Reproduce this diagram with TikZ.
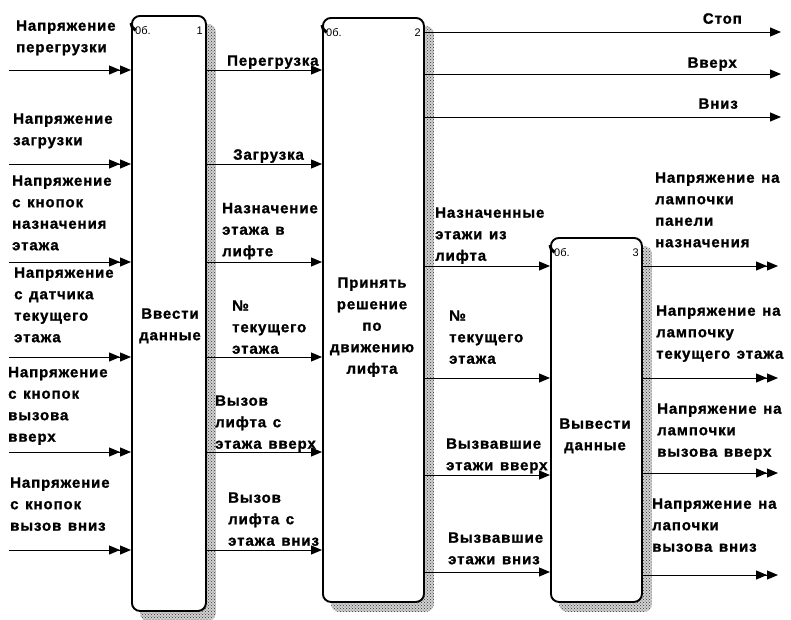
\documentclass[tikz,border=0pt]{standalone}
\usepackage{fontspec}
\setmainfont{Liberation Sans}
\newfontfamily\labfont[LetterSpace=6,WordSpace=1.3,BoldFeatures={FakeBold=1.2}]{Liberation Sans}
\usetikzlibrary{arrows.meta,patterns,backgrounds}
\newcommand\mystrut{\rule{0pt}{11pt}}
\tikzset{
  box/.style={draw, line width=1.9pt, rounded corners=8pt, fill=white, anchor=north west, inner sep=0pt},
  shad/.style={fill=black!18, postaction={pattern=crosshatch dots, pattern color=black!80}, rounded corners=8pt},
  lab/.style={font=\labfont\bfseries\fontsize{15pt}{21.5pt}\selectfont, align=left, anchor=north west, inner sep=0pt},
  rlab/.style={lab, anchor=north east, align=right},
  blab/.style={lab, anchor=north, align=center},
  tag/.style={font=\fontsize{11pt}{12pt}\selectfont, inner sep=0pt},
  arr/.style={line width=1pt, -{Triangle[length=11pt,width=9pt]}},
  darr/.style={line width=1pt, -{Triangle[length=11pt,width=9pt,sep=0pt]Triangle[length=11pt,width=9pt]}},
  corner/.style={line width=3pt}
}
\begin{document}
\begin{tikzpicture}[x=1pt,y=-1pt]
\useasboundingbox (0,0) rectangle (791,619);
% boxes
\node[box, minimum width=74pt, minimum height=595pt] (b1) at (131,15) {};
\node[box, minimum width=101pt, minimum height=584pt] (b2) at (322,17) {};
\node[box, minimum width=91pt, minimum height=364pt] (b3) at (550,237) {};
\begin{scope}[on background layer]
  \path[shad] ([shift={(9,9)}]b1.north west) rectangle ([shift={(9,9)}]b1.south east);
  \path[shad] ([shift={(9,9)}]b2.north west) rectangle ([shift={(9,9)}]b2.south east);
  \path[shad] ([shift={(9,9)}]b3.north west) rectangle ([shift={(9,9)}]b3.south east);
\end{scope}
\foreach \b in {b1,b2,b3}{
  \draw[corner] ([yshift=-8pt]\b.north west) arc[start angle=180, end angle=245, radius=8pt];
}
% box tags
\node[tag, anchor=west] (t1a) at ([shift={(4,16)}]b1.north west) {0б.};
\node[tag, anchor=east] (t1b) at ([shift={(-4,16)}]b1.north east) {1};
\node[tag, anchor=west] (t2a) at ([shift={(4,16)}]b2.north west) {0б.};
\node[tag, anchor=east] (t2b) at ([shift={(-4,16)}]b2.north east) {2};
\node[tag, anchor=west] (t3a) at ([shift={(4,16)}]b3.north west) {0б.};
\node[tag, anchor=east] (t3b) at ([shift={(-4,16)}]b3.north east) {3};
% box texts
\node[blab] (x1) at (170,307.5) {\mystrut Ввести\\данные};
\node[blab] (x2) at (372,276.5) {\mystrut Принять\\решение\\по\\движению\\лифта};
\node[blab] (x3) at (595,417.5) {\mystrut Вывести\\данные};
% free ends
\coordinate (i1) at (9,70);
\coordinate (i2) at (9,164);
\coordinate (i3) at (9,262);
\coordinate (i4) at (9,357);
\coordinate (i5) at (9,452);
\coordinate (i6) at (9,550);
\coordinate (o1) at (781,32);
\coordinate (o2) at (781,74);
\coordinate (o3) at (781,117);
\coordinate (m1) at (0,266);
\coordinate (m2) at (0,378);
\coordinate (m3) at (0,475);
\coordinate (m4) at (0,572);
\coordinate (r1) at (778,266);
\coordinate (r2) at (778,378);
\coordinate (r3) at (778,473);
\coordinate (r4) at (778,575);
% connectors
\foreach \c in {i1,i2,i3,i4,i5,i6}{
  \draw[darr] (\c) -- (\c -| b1.west);
  \draw[arr] (b1.east |- \c) -- (b2.west |- \c);
}
\foreach \c in {o1,o2,o3}{
  \draw[arr] (b2.east |- \c) -- (\c);
}
\foreach \c in {m1,m2,m3,m4}{
  \draw[arr] (b2.east |- \c) -- (b3.west |- \c);
}
\foreach \c in {r1,r2,r3,r4}{
  \draw[darr] (b3.east |- \c) -- (\c);
}
% left labels
\node[lab] (l1) at (16,19.5) {\mystrut Напряжение\\перегрузки};
\node[lab] (l2) at (13,112.5) {\mystrut Напряжение\\загрузки};
\node[lab] (l3) at (12,174.5) {\mystrut Напряжение\\с кнопок\\назначения\\этажа};
\node[lab] (l4) at (14,266.5) {\mystrut Напряжение\\с датчика\\текущего\\этажа};
\node[lab] (l5) at (8,366) {\mystrut Напряжение\\с кнопок\\вызова\\вверх};
\node[lab] (l6) at (10,476.5) {\mystrut Напряжение\\с кнопок\\вызов вниз};
% middle labels
\node[lab] (n1) at (227,54.5) {\mystrut Перегрузка};
\node[lab] (n2) at (233,148.5) {\mystrut Загрузка};
\node[lab] (n3) at (222,202) {\mystrut Назначение\\этажа в\\лифте};
\node[lab] (n4) at (232,299.5) {\mystrut №\\текущего\\этажа};
\node[lab] (n5) at (215,394.5) {\mystrut Вызов\\лифта с\\этажа вверх};
\node[lab] (n6) at (228,491.5) {\mystrut Вызов\\лифта с\\этажа вниз};
% box 2 outputs
\node[rlab] (s1) at (742,12.5) {\mystrut Стоп};
\node[rlab] (s2) at (737,56.5) {\mystrut Вверх};
\node[rlab] (s3) at (738,97.5) {\mystrut Вниз};
% box2 -> box3
\node[lab] (k1) at (435,206.5) {\mystrut Назначенные\\этажи из\\лифта};
\node[lab] (k2) at (449,309.5) {\mystrut №\\текущего\\этажа};
\node[lab] (k3) at (446,437.5) {\mystrut Вызвавшие\\этажи вверх};
\node[lab] (k4) at (448,531.5) {\mystrut Вызвавшие\\этажи вниз};
% box 3 outputs
\node[lab] (q1) at (655,171.5) {\mystrut Напряжение на\\лампочки\\панели\\назначения};
\node[lab] (q2) at (656,304.5) {\mystrut Напряжение на\\лампочку\\текущего этажа};
\node[lab] (q3) at (657,402.5) {\mystrut Напряжение на\\лампочки\\вызова вверх};
\node[lab] (q4) at (652,497.5) {\mystrut Напряжение на\\лапочки\\вызова вниз};
\end{tikzpicture}
\end{document}
